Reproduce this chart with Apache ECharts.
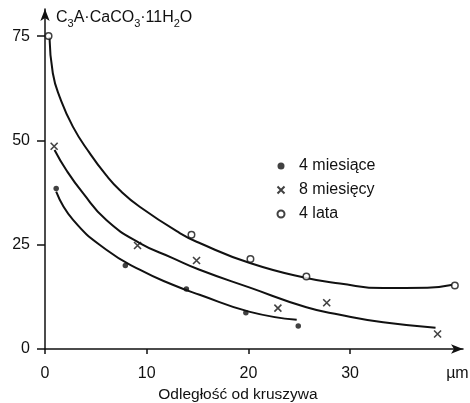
<!DOCTYPE html>
<html>
<head>
<meta charset="utf-8">
<script src="https://cdn.jsdelivr.net/npm/echarts@6/dist/echarts.min.js"></script>
<style>
html,body{margin:0;padding:0;background:#fff;}
#c{width:470px;height:403px;}
</style>
</head>
<body>
<div id="c"></div>
<script>
// Measured points (x in µm, y = C3A·CaCO3·11H2O content)
var months4 = [[1.1, 38.5], [7.9, 20.0], [13.9, 14.4], [19.75, 8.7], [24.9, 5.5]];
var months8 = [[0.9, 48.6], [9.1, 24.8], [14.9, 21.2], [22.9, 9.8], [27.7, 11.1], [38.6, 3.6]];
var years4 = [[0.35, 75.0], [14.4, 27.4], [20.2, 21.6], [25.7, 17.4], [40.3, 15.2]];

// Fitted curves
var curve4m = [[1.1, 37.7], [2.74, 31.0], [6.03, 23.8], [9.31, 19.0], [12.56, 15.4], [15.2, 13.0], [20.15, 8.9], [24.75, 7.0]];
var curve8m = [[0.94, 47.7], [2.09, 42.9], [3.72, 37.4], [6.03, 30.9], [9.31, 25.4], [12.56, 21.8], [15.2, 19.0], [20.15, 14.7], [25.7, 10.0], [29.0, 8.2], [33.25, 6.4], [38.4, 5.1]];
var curve4y = [[0.44, 74.8], [0.77, 66.1], [1.43, 60.5], [2.74, 53.3], [4.38, 47.0], [6.03, 41.6], [7.34, 38.1], [9.31, 34.1], [13.25, 27.8], [15.2, 25.4], [20.15, 20.6], [25.7, 17.0], [29.0, 15.7], [33.25, 14.6], [37.6, 14.7], [40.1, 15.4]];

var xTicks = [0, 10, 20, 30];
var yTicks = [0, 25, 50, 75];
var seriesNames = ['4 miesiące', '8 miesięcy', '4 lata'];
var xAxisName = 'Odległość od kruszywa';
var xUnit = 'µm';

var FONT = 'Liberation Sans, Arial, sans-serif';
var INK = '#111';
var chart = echarts.init(document.getElementById('c'), null, {renderer: 'canvas'});

function curve(data) {
  return {
    type: 'line', data: data, smooth: 0.5, symbol: 'none',
    lineStyle: {color: INK, width: 2}, silent: true, z: 2
  };
}

chart.setOption({
  backgroundColor: '#fff',
  animation: false,
  title: {
    left: 51, top: 3,
    text: '{n|C}{s|3}{n|A·CaCO}{s|3}{n|·11H}{s|2}{n|O}',
    textStyle: {
      fontWeight: 'normal',
      rich: {
        n: {fontFamily: FONT, fontSize: 16, fontWeight: 'normal', color: INK, lineHeight: 20, verticalAlign: 'middle'},
        s: {fontFamily: FONT, fontSize: 11, fontWeight: 'normal', color: INK, lineHeight: 20, verticalAlign: 'bottom', padding: [0, 0, -1, 0]}
      }
    }
  },
  legend: {
    orient: 'vertical', left: 270, top: 153,
    itemWidth: 26, itemHeight: 7, itemGap: 8,
    data: seriesNames,
    textStyle: {fontFamily: FONT, fontSize: 16, color: INK}
  },
  grid: {left: 45, right: 7, top: 9, bottom: 54, containLabel: false, outerBoundsMode: 'none'},
  xAxis: {
    type: 'value', min: 0, max: 41.1, interval: 10,
    name: xAxisName, nameLocation: 'middle', nameGap: 37,
    nameTextStyle: {fontFamily: FONT, fontSize: 15.5, color: INK, padding: [0, 32, 0, 0]},
    axisLine: {lineStyle: {color: INK, width: 1.5}, symbol: ['none', 'arrow'], symbolSize: [7, 12]},
    axisTick: {show: true, length: 5, inside: false, customValues: xTicks, lineStyle: {color: INK, width: 1.5}},
    axisLabel: {
      customValues: xTicks.concat([40.55]), margin: 17,
      fontFamily: FONT, fontSize: 16, color: INK,
      formatter: function (v) { return v > 35 ? xUnit : String(v); }
    },
    splitLine: {show: false}
  },
  yAxis: {
    type: 'value', min: 0, max: 81.5, interval: 25,
    axisLine: {show: true, lineStyle: {color: INK, width: 1.5}, symbol: ['none', 'arrow'], symbolSize: [7, 12]},
    axisTick: {show: true, length: 8, customValues: yTicks, lineStyle: {color: INK, width: 1.5}},
    axisLabel: {customValues: yTicks, margin: 15, fontFamily: FONT, fontSize: 16, color: INK},
    splitLine: {show: false}
  },
  series: [
    curve(curve4m), curve(curve8m), curve(curve4y),
    {
      name: seriesNames[0], type: 'scatter', data: months4, symbol: 'circle', symbolSize: 5.5,
      itemStyle: {color: INK}, z: 5
    },
    {
      name: seriesNames[1], type: 'scatter', data: months8, symbol: 'path://M0,0L10,10M10,0L0,10', symbolSize: 7,
      itemStyle: {color: 'none', borderColor: INK, borderWidth: 1.6}, z: 5
    },
    {
      name: seriesNames[2], type: 'scatter', data: years4, symbol: 'circle', symbolSize: 6.5,
      itemStyle: {color: '#fff', borderColor: INK, borderWidth: 1.5}, z: 5
    }
  ]
});
</script>
</body>
</html>
